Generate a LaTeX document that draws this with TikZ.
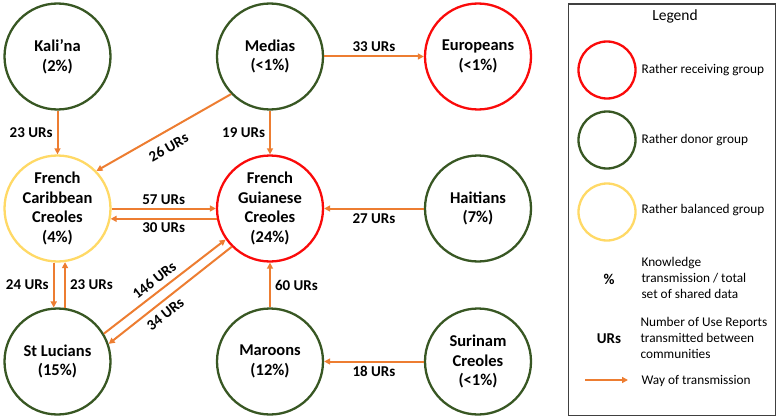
\documentclass[tikz,border=0pt]{standalone}
\usepackage{fontspec}
\setmainfont{Carlito}
\usetikzlibrary{arrows.meta}
\definecolor{myorange}{RGB}{237,125,49}
\definecolor{myred}{RGB}{250,10,10}
\definecolor{mygreen}{RGB}{56,87,35}
\definecolor{myyellow}{RGB}{255,217,102}

\begin{document}
\begin{tikzpicture}[x=1pt, y=-1pt, >={Triangle[length=6pt,width=6pt]},
  grp/.style={circle, draw, line width=2.3pt, minimum size=106pt, inner sep=0pt, align=center,
    font=\fontsize{16.5}{19.5}\selectfont\bfseries},
  rcv/.style={grp, draw=myred},
  don/.style={grp, draw=mygreen},
  bal/.style={grp, draw=myyellow},
  tr/.style={->, myorange, line width=2pt},
  ur/.style={font=\fontsize{15}{17}\selectfont\bfseries, text=black, inner sep=2pt},
  lgc/.style={circle, line width=2.3pt, minimum size=57pt, inner sep=0pt},
  lg/.style={font=\fontsize{13.3}{16}\selectfont, align=left, anchor=west}]
  \useasboundingbox (0,0) rectangle (778,417);
  % communities
  \node[don] (kal) at (57.5,56.5)  {Kali’na\\(2\%)};
  \node[don] (med) at (270,56.5)   {Medias\\(<1\%)};
  \node[rcv] (eur) at (478,56.5)   {Europeans\\(<1\%)};
  \node[bal] (fcc) at (57.5,208.5) {French\\Caribbean\\Creoles\\(4\%)};
  \node[rcv] (fgc) at (270,208.5)  {French\\Guianese\\Creoles\\(24\%)};
  \node[don] (hai) at (478,208.5)  {Haitians\\(7\%)};
  \node[don] (stl) at (57.5,361.5) {St Lucians\\(15\%)};
  \node[don] (mar) at (270,361.5)  {Maroons\\(12\%)};
  \node[don] (sur) at (478,361.5)  {Surinam\\Creoles\\(<1\%)};
  % transmissions
  \draw[tr] (kal) -- node[ur, left=2pt] {23 URs} (fcc);
  \draw[tr] (med) -- node[ur, left=2pt] {19 URs} (fgc);
  \draw[tr] (med) -- node[ur, above=2pt] {33 URs} (eur);
  \draw[tr] (med.224) -- node[ur, sloped, below=7pt, pos=0.52] {26 URs} (fcc.44);
  \draw[tr] (fcc.east) -- node[ur, above=1pt] {57 URs} (fgc.west);
  \draw[tr] (fgc.191) -- node[ur, below=1pt] {30 URs} (fcc.-11);
  \draw[tr] (hai) -- node[ur, below=2pt] {27 URs} (fgc);
  \draw[tr] (fcc.-94) -- node[ur, left=2pt] {24 URs} (stl.94);
  \draw[tr] (stl.82) -- node[ur, right=2pt] {23 URs} (fcc.-82);
  \draw[tr] (stl.31) -- node[ur, sloped, above=3pt, pos=0.47] {146 URs} (fgc.215);
  \draw[tr] (fgc.225) -- node[ur, sloped, below=4pt, pos=0.6] {34 URs} (stl.19);
  \draw[tr] (mar) -- node[ur, right=2pt] {60 URs} (fgc);
  \draw[tr] (sur) -- node[ur, below=2pt] {18 URs} (mar);
  % legend
  \node[draw=black!75, line width=1.5pt, minimum width=207pt, minimum height=411pt,
    anchor=north west, inner sep=0pt] (lgbox) at (567.5,3.5) {};
  \node[font=\fontsize{15.5}{17}\selectfont] (lgtitle) at (675,16) {Legend};
  \node[lgc, draw=myred] (lgrcv) at (607,70) {};
  \node[lg] (lgrcvtxt) at (638,70) {Rather receiving group};
  \node[lgc, draw=mygreen] (lgdon) at (607,140) {};
  \node[lg] (lgdontxt) at (638,140) {Rather donor group};
  \node[lgc, draw=myyellow] (lgbal) at (607,212) {};
  \node[lg] (lgbaltxt) at (638,210) {Rather balanced group};
  \node[font=\fontsize{15}{17}\selectfont\bfseries] (lgpct) at (609,279) {\%};
  \node[ur] (lgurs) at (609,339) {URs};
  \node[lg] (lgpcttxt) at (638,278) {Knowledge\\transmission / total\\set of shared data};
  \node[lg] (lgurstxt) at (637,338) {Number of Use Reports\\transmitted between\\communities};
  \coordinate (lgA) at (585,380);
  \coordinate (lgB) at (628,380);
  \draw[tr] (lgA) -- (lgB);
  \node[lg] (lgarrtxt) at (638,381) {Way of transmission};
\end{tikzpicture}
\end{document}
